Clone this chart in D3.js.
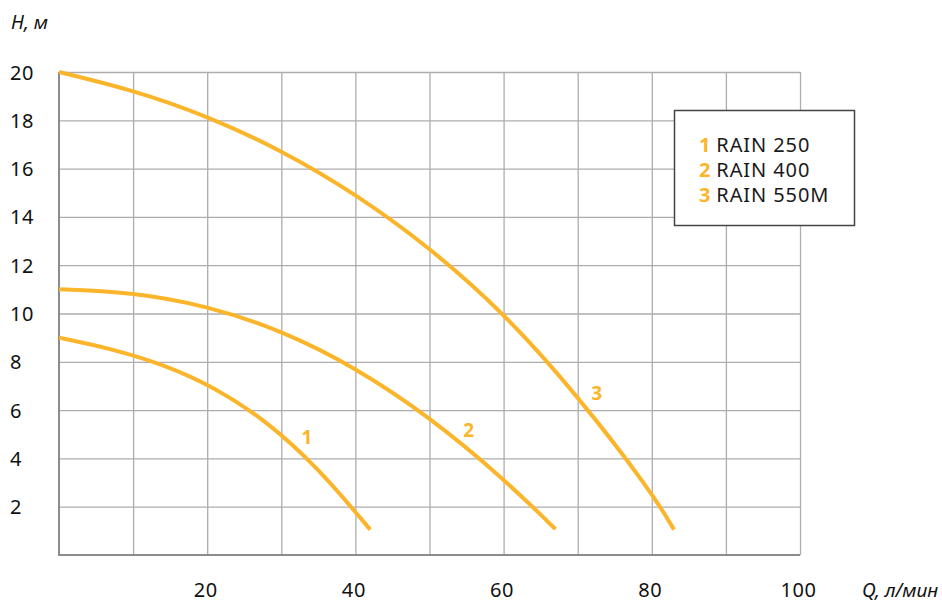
<!DOCTYPE html>
<html><head><meta charset="utf-8">
<script src="https://cdn.jsdelivr.net/npm/d3@7"></script>
<style>
html,body{margin:0;padding:0;background:#fff;}
text{font-family:"Noto Sans","Open Sans",sans-serif;}
</style></head>
<body><svg id="c" width="942" height="603"></svg>
<script>
const xTicks = [20, 40, 60, 80, 100];
const yTicks = [2, 4, 6, 8, 10, 12, 14, 16, 18, 20];
const seriesNames = ["RAIN 250", "RAIN 400", "RAIN 550M"];
const seriesLabels = ["1", "2", "3"];
const q1 = [0, 7, 14, 21, 28, 35, 42];
const h1 = [9, 8.55, 7.9, 6.95, 5.55, 3.6, 1.05];
const q2 = [0, 10, 20, 30, 40, 50, 60, 67];
const h2 = [11, 10.88, 10.32, 9.3, 7.77, 5.72, 3.17, 1.07];
const q3 = [0, 10, 20, 30, 40, 50, 60, 70, 80, 83];
const h3 = [20, 19.25, 18.18, 16.76, 14.96, 12.74, 10.04, 6.6, 2.6, 1.05];
const labelPos = [[33.47, 4.87], [55.3, 5.18], [72.57, 6.69]];

const svg = d3.select("#c");
const x = d3.scaleLinear().domain([0, 100]).range([59, 800]);
const y = d3.scaleLinear().domain([0, 20]).range([555, 72]);
const orange = "#fbb52b";
const font = "'Noto Sans','Open Sans',sans-serif";

// grid
const gx = d3.axisBottom(x).tickValues(d3.range(10, 101, 10)).tickSize(-(555 - 72)).tickFormat("");
svg.append("g").attr("transform", "translate(0,555)").call(gx)
  .call(g => g.select(".domain").remove())
  .call(g => g.selectAll("line").attr("stroke", "#adadad").attr("stroke-width", 1.3));
const gy = d3.axisLeft(y).tickValues(yTicks).tickSize(-(800 - 59)).tickFormat("");
svg.append("g").attr("transform", "translate(59,0)").call(gy)
  .call(g => g.select(".domain").remove())
  .call(g => g.selectAll("line").attr("stroke", "#adadad").attr("stroke-width", 1.3));

// axes lines
svg.append("line").attr("x1", x(0)).attr("x2", x(0)).attr("y1", y(20)).attr("y2", y(0)).attr("stroke", "#8c8c8c").attr("stroke-width", 2);
svg.append("line").attr("x1", x(0) - 1).attr("x2", x(100)).attr("y1", y(0)).attr("y2", y(0)).attr("stroke", "#8c8c8c").attr("stroke-width", 2);

// tick labels
const ax = d3.axisBottom(x).tickValues(xTicks).tickSize(0).tickPadding(0);
svg.append("g").attr("transform", "translate(-2,597)").call(ax)
  .call(g => g.select(".domain").remove())
  .call(g => g.selectAll("text").attr("font-size", 20).attr("letter-spacing", 0.6).attr("fill", "#111").attr("dy", 0).attr("font-family", font));
const ay = d3.axisLeft(y).tickValues(yTicks).tickSize(0).tickFormat(d3.format("d"));
svg.append("g").attr("transform", "translate(10,0)").call(ay)
  .call(g => g.select(".domain").remove())
  .call(g => g.selectAll("text").attr("text-anchor", "start").attr("x", 0).attr("dy", "0.35em").attr("font-size", 20).attr("letter-spacing", 0.6).attr("fill", "#111").attr("font-family", font));

// axis titles
svg.append("text").attr("x", 11).attr("y", 29).attr("font-size", 19).attr("font-style", "italic").attr("fill", "#111").text("H, м");
svg.append("text").attr("x", 862).attr("y", 597).attr("font-size", 19).attr("font-style", "italic").attr("fill", "#111").text("Q, л/мин");

// curves
const line = d3.line().x(d => x(d[0])).y(d => y(d[1])).curve(d3.curveBasis);
const data = [d3.zip(q1, h1), d3.zip(q2, h2), d3.zip(q3, h3)];
data.forEach(d => {
  svg.append("path").attr("d", line(d)).attr("fill", "none").attr("stroke", orange).attr("stroke-width", 4);
});
labelPos.forEach((p, i) => {
  svg.append("text").attr("x", x(p[0])).attr("y", y(p[1])).attr("text-anchor", "middle").attr("dy", "0.36em")
    .attr("font-size", 19).attr("font-weight", "bold").attr("fill", orange).text(seriesLabels[i]);
});

// legend
svg.append("rect").attr("x", 674.5).attr("y", 110.5).attr("width", 180).attr("height", 115).attr("fill", "#fff").attr("stroke", "#444").attr("stroke-width", 1.5);
seriesNames.forEach((n, i) => {
  const t = svg.append("text").attr("x", 699).attr("y", 144.7 + i * 25).attr("dy", "0.36em").attr("font-size", 20).attr("letter-spacing", 0.9).attr("fill", "#1a1a1a");
  t.append("tspan").attr("fill", orange).attr("font-weight", "bold").text(seriesLabels[i]);
  t.append("tspan").attr("dx", 5).text(n);
});
</script></body></html>
